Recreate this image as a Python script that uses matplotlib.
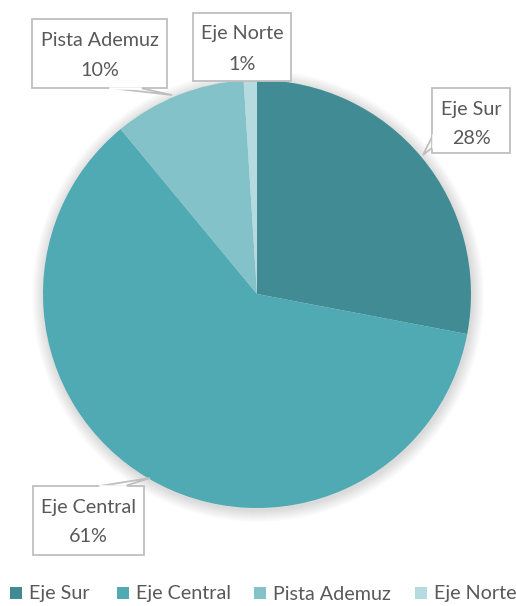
import matplotlib.pyplot as plt
from matplotlib.patches import Circle, Polygon

labels = ["Eje Sur", "Eje Central", "Pista Ademuz", "Eje Norte"]
values = [28, 61, 10, 1]
colors = ["#418C94", "#4FAAB3", "#84C2CA", "#B5DAE0"]

W, H = 516, 606
fig = plt.figure(figsize=(W / 100, H / 100), dpi=100)
ax = fig.add_axes([0, 0, 1, 1])

cx, cy, r = 257, H - 294, 214
font = ["Lato", "DejaVu Sans"]
txt_color = "#595959"

# soft shadow behind the pie
for i in range(12):
    ax.add_patch(Circle((cx + 1, cy - 2), r + 12 - i, color="black",
                        alpha=0.010, lw=0, zorder=0))

ax.pie(values, colors=colors, startangle=90, counterclock=False,
       center=(cx, cy), radius=r, frame=True,
       wedgeprops=dict(linewidth=0))
ax.set_xlim(0, W)
ax.set_ylim(0, H)
ax.set_aspect("equal")
ax.axis("off")

# callout boxes: (x0, y0, x1, y1) in pixels from top-left, plus pointer
boxes = [
    ((432, 88, 510, 153), [(433, 147), (423, 155), (433, 135)]),
    ((33, 486, 144, 555), [(100, 486), (150, 478), (125, 486)]),
    ((32, 19, 167, 88), [(110, 88), (172, 95), (140, 88)]),
    ((193, 13, 291, 81), None),
]

for i, ((x0, y0, x1, y1), ptr) in enumerate(boxes):
    rect = Polygon([(x0, H - y0), (x1, H - y0), (x1, H - y1), (x0, H - y1)],
                   closed=True, facecolor="white", edgecolor="#BFBFBF",
                   lw=1.3, zorder=5)
    ax.add_patch(rect)
    if ptr is not None:
        tri = Polygon([(px, H - py) for px, py in ptr], closed=True,
                      facecolor="white", edgecolor="#BFBFBF", lw=1.3, zorder=4)
        ax.add_patch(tri)
        ax.plot([ptr[0][0], ptr[2][0]], [H - ptr[0][1], H - ptr[2][1]],
                color="white", lw=1.8, zorder=6)
    xm = (x0 + x1) / 2
    ax.text(xm, H - (y0 + 21), labels[i], ha="center", va="center",
            fontsize=14.2, color=txt_color, family=font, zorder=7)
    ax.text(xm, H - (y0 + 51), f"{values[i]}%", ha="center", va="center",
            fontsize=14.2, color=txt_color, family=font, zorder=7)

# legend
leg_x = [10, 117, 254, 415]
for i, lx in enumerate(leg_x):
    ax.add_patch(Polygon([(lx, H - 587), (lx + 12, H - 587), (lx + 12, H - 599),
                          (lx, H - 599)], closed=True, color=colors[i], lw=0))
    ax.text(lx + 19, H - 594, labels[i], ha="left", va="center",
            fontsize=14.2, color=txt_color, family=font)

fig.savefig("out.png", dpi=100, facecolor="white")
